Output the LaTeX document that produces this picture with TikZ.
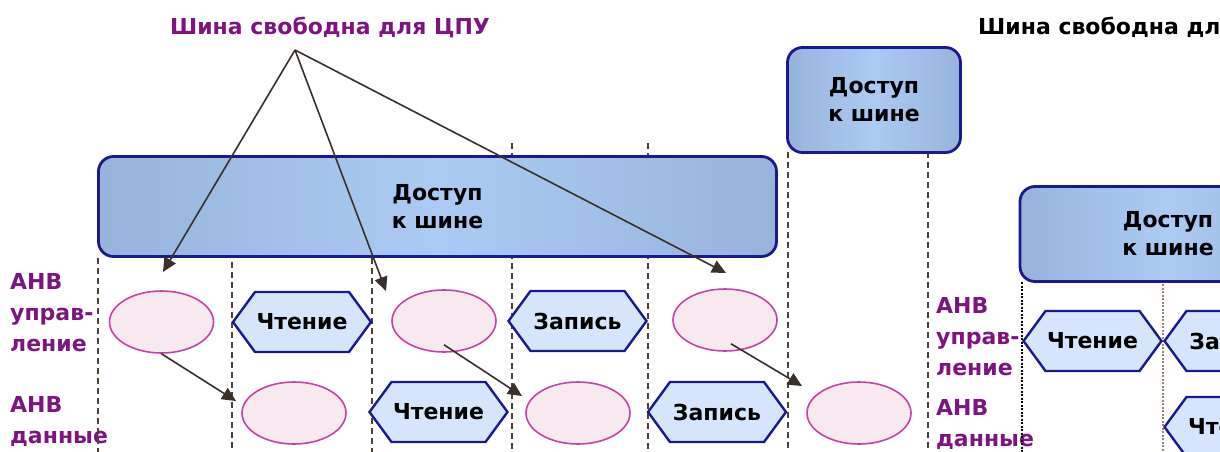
\documentclass[tikz,border=0pt]{standalone}
\usepackage{fontspec}
\setmainfont{DejaVu Sans}
\usetikzlibrary{arrows.meta,shapes.geometric}
\definecolor{busEdge}{HTML}{1A1A8C}
\definecolor{busSide}{HTML}{97B3DC}
\definecolor{busMid}{HTML}{ABCBF3}
\definecolor{opFill}{HTML}{D5E5FB}
\definecolor{anvFill}{HTML}{F8E8EF}
\definecolor{anvEdge}{HTML}{C244A8}
\definecolor{anvPurple}{HTML}{7E1482}
\definecolor{gridLine}{HTML}{4E4236}
\definecolor{gridPale}{HTML}{9A8670}
\definecolor{pointer}{HTML}{3A302A}
\newcommand{\busfont}{\fontsize{22}{28}\selectfont\bfseries}
\newcommand{\opcell}[3]{% name, centre, label
  \coordinate (#1) at (#2);
  \filldraw[hexline] ([xshift=-69pt]#1) -- ([shift={(-47pt,30pt)}]#1) -- ([shift={(47pt,30pt)}]#1)
    -- ([xshift=69pt]#1) -- ([shift={(47pt,-30pt)}]#1) -- ([shift={(-47pt,-30pt)}]#1) -- cycle;
  \node[inner sep=0pt] (#1-t) at (#1) {#3};}

\begin{document}
\begin{tikzpicture}[x=1pt,y=-1pt,font=\busfont]
  \tikzset{
    busbox/.style={draw=busEdge,line width=2.8pt,rounded corners=15pt,left color=busSide,right color=busSide,middle color=busMid,align=center},
    hexline/.style={draw=busEdge,line width=2.4pt,fill=opFill},
    anv/.style={ellipse,draw=anvEdge,line width=1.6pt,fill=anvFill,minimum width=104pt,minimum height=62pt},
    lane/.style={anchor=north west,inner sep=0pt,align=left,text=anvPurple,font=\fontsize{22}{31}\selectfont\bfseries},
    slotline/.style={draw=gridLine,line width=2pt,dash pattern=on 6pt off 4pt},
    hint/.style={-{Triangle[length=14pt,width=13pt]},draw=pointer,line width=1.6pt}
  }
  \useasboundingbox (0,0) rectangle (1220,452);
  \clip (0,0) rectangle (1220,452);

  % titles
  \node[anchor=base,text=anvPurple,inner sep=0pt] (free1) at (330,35) {Шина свободна для ЦПУ};
  \node[anchor=base west,inner sep=0pt] (free2) at (978,35) {Шина свободна для ЦПУ};

  % lane labels
  \node[lane] (ctl1) at (10,273) {АНВ\\управ-\\ление};
  \node[lane] (dat1) at (10,396) {АНВ\\данные};
  \node[lane] (ctl2) at (936,297) {АНВ\\управ-\\ление};
  \node[lane] (dat2) at (936,399) {АНВ\\данные};

  % time slots
  \draw[slotline] (98,258) -- (98,452);
  \draw[slotline] (232,262) -- (232,452);
  \draw[slotline] (372,258) -- (372,452);
  \draw[slotline] (512,143) -- (512,452);
  \draw[slotline] (648,143) -- (648,452);
  \draw[slotline] (788,152) -- (788,452);
  \draw[slotline] (928,152) -- (928,452);
  \draw[slotline,draw=black,line width=1.2pt,dash pattern=on 2pt off 1.5pt] (1022,282) -- (1022,452);
  \draw[slotline,draw=gridPale,line width=1.2pt,dash pattern=on 2pt off 1.5pt] (1163,284) -- (1163,452);

  % bus access
  \node[busbox,minimum width=678pt,minimum height=100pt] (acc1) at (437.5,206.5) {Доступ\\к шине};
  \node[busbox,minimum width=173pt,minimum height=105pt] (acc2) at (874,100) {Доступ\\к шине};
  \node[busbox,minimum width=296pt,minimum height=95pt] (acc3) at (1168,234) {Доступ\\к шине};

  % idle cycles
  \node[anv] (c1) at (161.5,322) {};
  \node[anv] (c2) at (444,321) {};
  \node[anv] (c3) at (725,320) {};
  \node[anv] (d1) at (294,413) {};
  \node[anv] (d2) at (578,413) {};
  \node[anv] (d3) at (859,413) {};

  % read / write
  \opcell{rd1}{302,322}{Чтение}
  \opcell{wr1}{577.5,321}{Запись}
  \opcell{rd2}{438.5,412}{Чтение}
  \opcell{wr2}{717,412}{Запись}
  \opcell{rd3}{1092.5,341}{Чтение}
  \opcell{wr3}{1233.5,341}{Запись}
  \opcell{rd4}{1233.5,427}{Чтение}

  % pointers
  \coordinate (hub) at (295,50);
  \coordinate (to1) at (163,272);
  \coordinate (to2) at (386,291);
  \coordinate (to3) at (726,273);
  \coordinate (s1) at (236,401);
  \coordinate (s2) at (522,396);
  \coordinate (s3) at (802,386);
  \draw[hint] (hub) -- (to1);
  \draw[hint] (hub) -- (to2);
  \draw[hint] (hub) -- (to3);
  \draw[hint] (c1.south) -- (s1);
  \draw[hint] ([yshift=8pt]c2.south) -- (s2);
  \draw[hint] ([xshift=6pt,yshift=8pt]c3.south) -- (s3);
\end{tikzpicture}
\end{document}
